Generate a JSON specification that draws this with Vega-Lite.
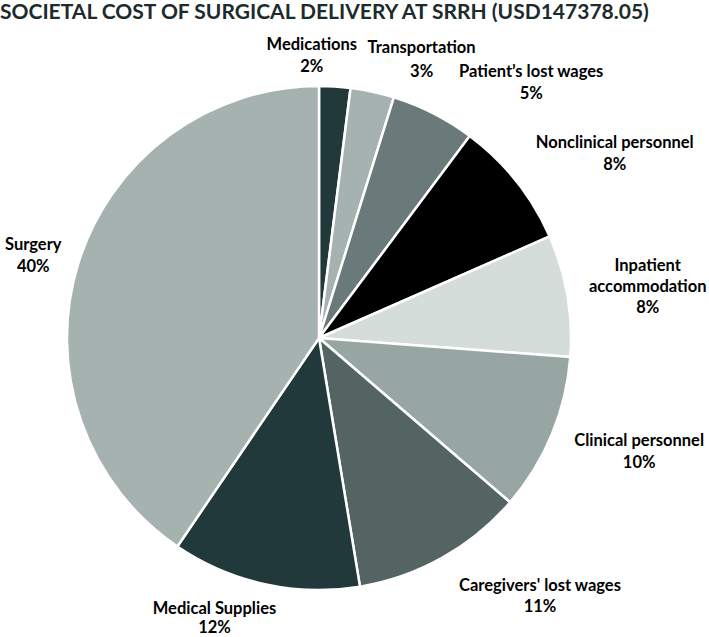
{
  "$schema": "https://vega.github.io/schema/vega-lite/v6.json",
  "autosize": "none",
  "width": 638,
  "height": 614,
  "padding": {"left": 0, "top": 31, "right": 71, "bottom": 0},
  "background": "white",
  "title": {
    "text": "SOCIETAL COST OF SURGICAL DELIVERY AT SRRH (USD147378.05)",
    "anchor": "start",
    "frame": "group",
    "orient": "top",
    "baseline": "alphabetic",
    "offset": 12,
    "dy": 43,
    "font": "Lato",
    "fontSize": 21,
    "fontWeight": "bold",
    "color": "#1c2b2d"
  },
  "config": {"view": {"stroke": null}},
  "data": {
    "values": [
      {"category": "Medications", "value": 2.0, "order": 1, "label": "Medications\n2%"},
      {"category": "Transportation", "value": 2.8, "order": 2, "label": "Transportation\n3%"},
      {"category": "Patient’s lost wages", "value": 5.4, "order": 3, "label": "Patient’s lost wages\n5%"},
      {"category": "Nonclinical personnel", "value": 8.2, "order": 4, "label": "Nonclinical personnel\n8%"},
      {"category": "Inpatient accommodation", "value": 7.8, "order": 5, "label": "Inpatient\naccommodation\n8%"},
      {"category": "Clinical personnel", "value": 10.1, "order": 6, "label": "Clinical personnel\n10%"},
      {"category": "Caregivers' lost wages", "value": 11.1, "order": 7, "label": "Caregivers' lost wages\n11%"},
      {"category": "Medical Supplies", "value": 12.1, "order": 8, "label": "Medical Supplies\n12%"},
      {"category": "Surgery", "value": 40.5, "order": 9, "label": "Surgery\n40%"}
    ]
  },
  "encoding": {
    "theta": {"field": "value", "type": "quantitative", "stack": true},
    "order": {"field": "order", "type": "quantitative"}
  },
  "layer": [
    {
      "mark": {"type": "arc", "radius": 252, "stroke": "white", "strokeWidth": 2.5},
      "encoding": {
        "color": {
          "field": "category",
          "type": "nominal",
          "legend": null,
          "scale": {
            "domain": ["Medications", "Transportation", "Patient’s lost wages", "Nonclinical personnel", "Inpatient accommodation", "Clinical personnel", "Caregivers' lost wages", "Medical Supplies", "Surgery"],
            "range": ["#22393b", "#a6b2b0", "#6a7a7a", "#000000", "#d5dddb", "#98a6a3", "#546462", "#22393b", "#a6b2b0"]
          }
        }
      }
    },
    {
      "mark": {"type": "text", "radius": 300, "dx": -26, "dy": 6, "font": "Lato", "fontSize": 16.5, "fontWeight": "bold", "lineBreak": "\n", "lineHeight": 22, "align": "center", "baseline": "middle", "color": "#000000"},
      "encoding": {"text": {"condition": {"test": "datum.category === 'Medications'", "field": "label"}, "value": ""}}
    },
    {
      "mark": {"type": "text", "radius": 300, "dx": 39, "dy": 3, "font": "Lato", "fontSize": 16.5, "fontWeight": "bold", "lineBreak": "\n", "lineHeight": 24, "align": "center", "baseline": "middle", "color": "#000000"},
      "encoding": {"text": {"condition": {"test": "datum.category === 'Transportation'", "field": "label"}, "value": ""}}
    },
    {
      "mark": {"type": "text", "radius": 300, "dx": 76, "dy": 1, "font": "Lato", "fontSize": 16.5, "fontWeight": "bold", "lineBreak": "\n", "lineHeight": 22, "align": "center", "baseline": "middle", "color": "#000000"},
      "encoding": {"text": {"condition": {"test": "datum.category === 'Patient’s lost wages'", "field": "label"}, "value": ""}}
    },
    {
      "mark": {"type": "text", "radius": 300, "dx": 61, "dy": -8, "font": "Lato", "fontSize": 16.5, "fontWeight": "bold", "lineBreak": "\n", "lineHeight": 22, "align": "center", "baseline": "middle", "color": "#000000"},
      "encoding": {"text": {"condition": {"test": "datum.category === 'Nonclinical personnel'", "field": "label"}, "value": ""}}
    },
    {
      "mark": {"type": "text", "radius": 300, "dx": 33, "dy": -21, "font": "Lato", "fontSize": 16.5, "fontWeight": "bold", "lineBreak": "\n", "lineHeight": 21, "align": "center", "baseline": "middle", "color": "#000000"},
      "encoding": {"text": {"condition": {"test": "datum.category === 'Inpatient accommodation'", "field": "label"}, "value": ""}}
    },
    {
      "mark": {"type": "text", "radius": 300, "dx": 43, "dy": -12, "font": "Lato", "fontSize": 16.5, "fontWeight": "bold", "lineBreak": "\n", "lineHeight": 22, "align": "center", "baseline": "middle", "color": "#000000"},
      "encoding": {"text": {"condition": {"test": "datum.category === 'Clinical personnel'", "field": "label"}, "value": ""}}
    },
    {
      "mark": {"type": "text", "radius": 300, "dx": 74, "dy": -14, "font": "Lato", "fontSize": 16.5, "fontWeight": "bold", "lineBreak": "\n", "lineHeight": 21, "align": "center", "baseline": "middle", "color": "#000000"},
      "encoding": {"text": {"condition": {"test": "datum.category === \"Caregivers' lost wages\"", "field": "label"}, "value": ""}}
    },
    {
      "mark": {"type": "text", "radius": 300, "dx": -40, "dy": -22, "font": "Lato", "fontSize": 16.5, "fontWeight": "bold", "lineBreak": "\n", "lineHeight": 19, "align": "center", "baseline": "middle", "color": "#000000"},
      "encoding": {"text": {"condition": {"test": "datum.category === 'Medical Supplies'", "field": "label"}, "value": ""}}
    },
    {
      "mark": {"type": "text", "radius": 300, "dx": 1, "dy": -5, "font": "Lato", "fontSize": 16.5, "fontWeight": "bold", "lineBreak": "\n", "lineHeight": 22, "align": "center", "baseline": "middle", "color": "#000000"},
      "encoding": {"text": {"condition": {"test": "datum.category === 'Surgery'", "field": "label"}, "value": ""}}
    }
  ]
}
